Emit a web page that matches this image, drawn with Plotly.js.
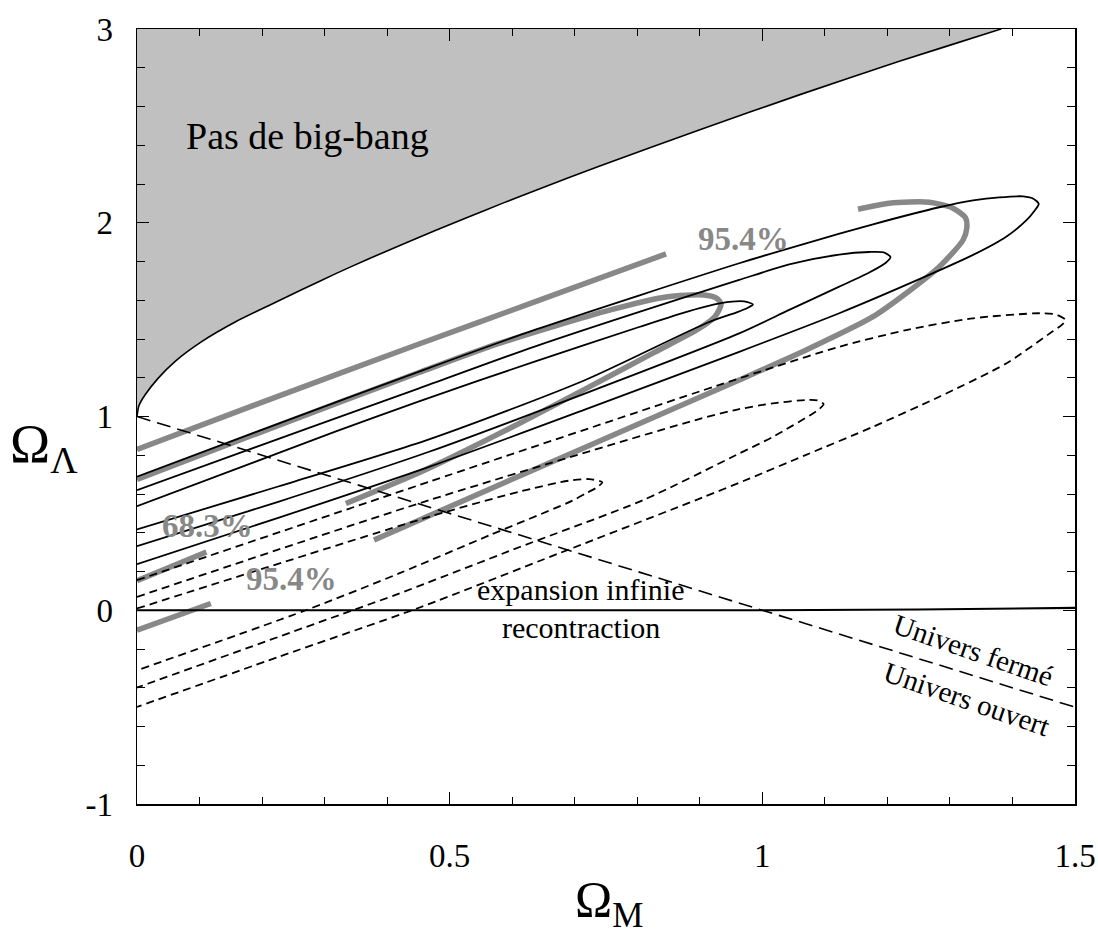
<!DOCTYPE html>
<html>
<head>
<meta charset="utf-8">
<script src="https://cdn.plot.ly/plotly-3.0.1.min.js"></script>
<style>
  html, body { margin: 0; padding: 0; background: #ffffff; }
  #chart { width: 1098px; height: 938px; }
</style>
</head>
<body>
<div id="chart"></div>
<script>
// Plan (Omega_M, Omega_Lambda) : contours de confiance des supernovae lointaines.

// Axes
const rangeM = [0, 1.5];
const rangeL = [-1, 3];
const tickM = [0, 0.5, 1, 1.5];
const tickMText = ["0", "0.5", "1", "1.5"];
const tickL = [-1, 0, 1, 2, 3];
const tickLText = ["-1", "0", "1", "2", "3"];

// Frontière de la région sans big-bang
const noBigBangM = [0, 0.003, 0.013, 0.034, 0.061, 0.104, 0.157, 0.211, 0.264, 0.317, 0.370, 0.424, 0.477, 0.530, 0.584, 0.637, 0.739, 0.899, 1.059, 1.219, 1.379, 1.382];
const noBigBangL = [1.0, 1.055, 1.112, 1.198, 1.285, 1.388, 1.488, 1.573, 1.655, 1.736, 1.813, 1.888, 1.960, 2.030, 2.100, 2.167, 2.291, 2.479, 2.660, 2.833, 2.997, 3.0];

// Univers plat : Omega_M + Omega_Lambda = 1
const flatM = [0, 1.5];
const flatL = [1, -0.5];

// Limite expansion infinie / recontraction
const recollapseM = [0, 1.0, 1.25, 1.5];
const recollapseL = [0, 0, 0.004, 0.012];

// Contours en trait plein (trois niveaux)
const solidOuterM = [0, 0.221, 0.451, 0.637, 0.963, 1.070, 1.177, 1.283, 1.337, 1.379, 1.417, 1.434, 1.442, 1.435, 1.422, 1.390, 1.337, 1.230, 1.123, 0.963, 0.715, 0.467, 0.227, 0];
const solidOuterL = [0.689, 0.957, 1.232, 1.448, 1.791, 1.894, 1.992, 2.080, 2.115, 2.131, 2.136, 2.123, 2.097, 2.061, 2.012, 1.928, 1.834, 1.679, 1.533, 1.334, 1.034, 0.740, 0.478, 0.238];

const solidMidM = [0, 0.274, 0.451, 0.637, 0.963, 1.043, 1.123, 1.171, 1.194, 1.205, 1.197, 1.171, 1.123, 1.043, 0.963, 0.715, 0.467, 0.227, 0];
const solidMidL = [0.620, 0.940, 1.145, 1.362, 1.705, 1.785, 1.836, 1.849, 1.847, 1.823, 1.792, 1.743, 1.670, 1.550, 1.429, 1.117, 0.818, 0.561, 0.331];

const solidInnerM = [0, 0.317, 0.451, 0.637, 0.803, 0.883, 0.934, 0.971, 0.985, 0.976, 0.960, 0.912, 0.715, 0.467, 0.227, 0];
const solidInnerL = [0.537, 0.922, 1.078, 1.285, 1.462, 1.544, 1.585, 1.594, 1.578, 1.560, 1.539, 1.484, 1.186, 0.882, 0.640, 0.417];

// Contours en tirets (trois niveaux)
const dashOuterM = [0, 0.467, 0.963, 1.017, 1.123, 1.230, 1.337, 1.443, 1.470, 1.485, 1.478, 1.465, 1.390, 1.283, 1.177, 1.070, 0.979, 0.906, 0.675, 0.451, 0.227, 0];
const dashOuterL = [0.155, 0.663, 1.197, 1.253, 1.360, 1.446, 1.507, 1.533, 1.526, 1.498, 1.470, 1.441, 1.274, 1.102, 0.947, 0.802, 0.679, 0.584, 0.294, 0.013, -0.240, -0.499];

const dashMidM = [0, 0.467, 0.899, 0.963, 1.017, 1.070, 1.088, 1.098, 1.091, 1.081, 1.017, 0.963, 0.809, 0.611, 0.419, 0.345, 0];
const dashMidL = [0.069, 0.568, 0.987, 1.038, 1.068, 1.085, 1.083, 1.064, 1.038, 1.016, 0.895, 0.809, 0.568, 0.325, 0.086, 0, -0.399];

const dashInnerM = [0, 0.467, 0.611, 0.691, 0.723, 0.744, 0.736, 0.718, 0.698, 0.563, 0.419, 0.270, 0];
const dashInnerL = [0.009, 0.482, 0.612, 0.669, 0.677, 0.661, 0.635, 0.604, 0.568, 0.386, 0.190, 0, -0.310];

// Contours gris (68,3 % et 95,4 %), interrompus aux étiquettes
const grey954UpperM = [0, 0.207, 0.451, 0.637, 0.846];
const grey954UpperL = [0.830, 1.082, 1.374, 1.593, 1.839];

const grey683M = [0, 0.221, 0.451, 0.579, 0.757, 0.846, 0.906, 0.926, 0.934, 0.925, 0.899, 0.825, 0.718, 0.611, 0.505, 0.451, 0.334];
const grey683L = [0.675, 0.948, 1.227, 1.377, 1.550, 1.617, 1.627, 1.612, 1.581, 1.519, 1.454, 1.327, 1.144, 0.964, 0.792, 0.710, 0.551];

const grey954M = [1.153, 1.203, 1.267, 1.305, 1.325, 1.327, 1.321, 1.283, 1.230, 1.177, 1.070, 0.963, 0.718, 0.451, 0.379];
const grey954L = [2.070, 2.101, 2.106, 2.075, 2.025, 1.973, 1.911, 1.773, 1.636, 1.515, 1.343, 1.188, 0.843, 0.465, 0.362];

const grey683TailM = [0, 0.111];
const grey683TailL = [0.153, 0.301];

const grey954TailM = [0, 0.118];
const grey954TailL = [-0.103, 0.035];

const SERIF = "Liberation Serif, Times New Roman, serif";
const GREY = "#888888";

function line(x, y, color, width, dash, shape, smoothing) {
  return {
    type: "scatter", mode: "lines", x: x, y: y, hoverinfo: "skip",
    line: { color: color, width: width, dash: dash || "solid",
            shape: shape || "spline", smoothing: smoothing === undefined ? 0.7 : smoothing }
  };
}

// Région grisée : frontière fermée par le coin supérieur gauche des axes
const fillM = noBigBangM.concat([rangeM[0]]);
const fillL = noBigBangL.concat([rangeL[1]]);

const traces = [
  {
    type: "scatter", mode: "lines", x: fillM, y: fillL, fill: "toself",
    fillcolor: "rgb(192,192,192)", hoverinfo: "skip",
    line: { color: "rgba(0,0,0,0)", width: 0, shape: "spline", smoothing: 0.6 }
  },
  line(noBigBangM, noBigBangL, "#000000", 1.6, "solid", "spline", 0.6),
  line(grey954UpperM, grey954UpperL, GREY, 5.5),
  line(grey683M, grey683L, GREY, 5.5),
  line(grey954M, grey954L, GREY, 5.5),
  line(grey683TailM, grey683TailL, GREY, 5.5, "solid", "linear"),
  line(grey954TailM, grey954TailL, GREY, 5.5, "solid", "linear"),
  line(dashOuterM, dashOuterL, "#000000", 1.8, "8px,5px"),
  line(dashMidM, dashMidL, "#000000", 1.8, "8px,5px"),
  line(dashInnerM, dashInnerL, "#000000", 1.8, "8px,5px"),
  line(solidOuterM, solidOuterL, "#000000", 1.8),
  line(solidMidM, solidMidL, "#000000", 1.8),
  line(solidInnerM, solidInnerL, "#000000", 1.8),
  line(flatM, flatL, "#000000", 1.6, "14px,7px", "linear"),
  line(recollapseM, recollapseL, "#000000", 2.2, "solid", "linear")
];

const tickFont = { family: SERIF, size: 33, color: "#000000" };
const titleFont = { family: SERIF, size: 50, color: "#000000" };

const layout = {
  width: 1098, height: 938,
  margin: { l: 137, r: 23, t: 29, b: 134 },
  paper_bgcolor: "#ffffff", plot_bgcolor: "#ffffff",
  showlegend: false,
  font: { family: SERIF, color: "#000000" },
  xaxis: {
    range: rangeM, tickvals: tickM, ticktext: tickMText,
    ticks: "inside", ticklen: 12, tickwidth: 1, tickcolor: "#000000",
    minor: { dtick: 0.1, ticks: "inside", ticklen: 7, tickwidth: 1, tickcolor: "#000000" },
    showline: true, linecolor: "#000000", linewidth: 1.5, mirror: "ticks",
    showgrid: false, zeroline: false, tickfont: tickFont, ticklabelstandoff: 22
  },
  yaxis: {
    range: rangeL, tickvals: tickL, ticktext: tickLText,
    ticks: "inside", ticklen: 12, tickwidth: 1, tickcolor: "#000000",
    minor: { dtick: 0.2, ticks: "inside", ticklen: 8, tickwidth: 1, tickcolor: "#000000" },
    showline: true, linecolor: "#000000", linewidth: 1.5, mirror: "ticks",
    showgrid: false, zeroline: false, tickfont: tickFont, ticklabelstandoff: 16
  },
  annotations: [
    // Titres des axes, écrits horizontalement
    { text: "Ω<sub>M</sub>", xref: "paper", yref: "paper", x: 0.503, y: -0.128,
      xanchor: "center", yanchor: "middle", showarrow: false, font: titleFont },
    { text: "Ω<sub>Λ</sub>", xref: "paper", yref: "paper", x: -0.138, y: 0.46,
      xanchor: "left", yanchor: "middle", showarrow: false,
      font: { family: SERIF, size: 54, color: "#000000" } },
    { text: "Pas de big-bang", x: 0.272, y: 2.45, showarrow: false,
      font: { family: SERIF, size: 38, color: "#000000" } },
    { text: "<b>95.4%</b>", x: 0.970, y: 1.915, showarrow: false,
      font: { family: SERIF, size: 33, color: GREY } },
    { text: "<b>68.3%</b>", x: 0.113, y: 0.435, showarrow: false,
      font: { family: SERIF, size: 33, color: GREY } },
    { text: "<b>95.4%</b>", x: 0.247, y: 0.163, showarrow: false,
      font: { family: SERIF, size: 33, color: GREY } },
    { text: "expansion infinie", x: 0.709, y: 0.108, showarrow: false,
      font: { family: SERIF, size: 30, color: "#000000" } },
    { text: "recontraction", x: 0.710, y: -0.088, showarrow: false,
      font: { family: SERIF, size: 30, color: "#000000" } },
    { text: "Univers fermé", x: 1.337, y: -0.205, textangle: 19, showarrow: false,
      font: { family: SERIF, size: 29, color: "#000000" } },
    { text: "Univers ouvert", x: 1.327, y: -0.460, textangle: 19, showarrow: false,
      font: { family: SERIF, size: 29, color: "#000000" } }
  ]
};

Plotly.newPlot("chart", traces, layout, { displayModeBar: false, staticPlot: true });
</script>
</body>
</html>
